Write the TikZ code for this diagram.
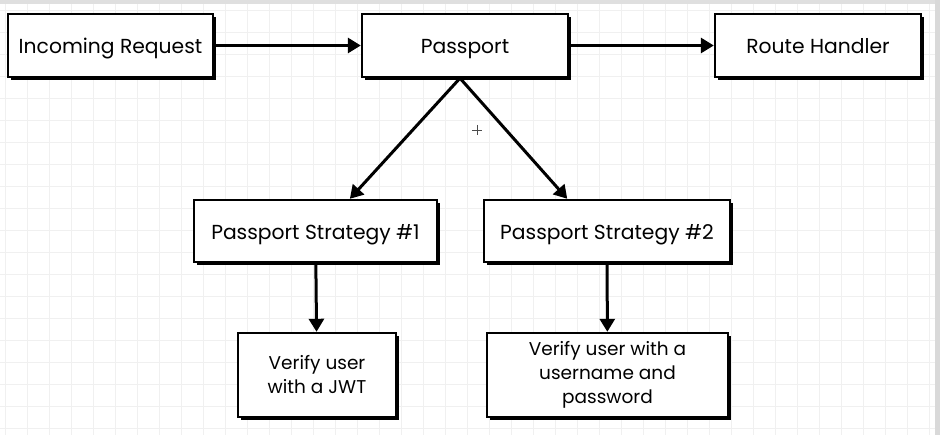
\documentclass[tikz,border=0pt]{standalone}
\usepackage{fontspec}
\setmainfont{Poppins}
\usetikzlibrary{arrows.meta, positioning, calc, shadows}

\begin{document}
\begin{tikzpicture}[x=1pt, y=-1pt,
  box/.style={draw=black, line width=2.4pt, fill=white, inner sep=0pt,
    font=\fontsize{20.3}{24}\selectfont, text height=17.5pt, text depth=1pt,
    drop shadow={shadow xshift=3pt, shadow yshift=-3pt, opacity=1, fill=black}},
  smallbox/.style={box, align=center, font=\fontsize{18.5}{24}\selectfont, text height={}, text depth={}},
  flow/.style={-{Triangle[length=13pt, width=15pt]}, line width=3pt},
  gridline/.style={draw=gray!12, line width=0.8pt}]
  \useasboundingbox (0,0) rectangle (940,435);

  % papier quadrille
  \fill[white] (0,0) rectangle (940,435);
  \foreach \gx in {5,27,...,935} {
    \draw[gridline] (\gx,4) -- (\gx,435);
  }
  \foreach \gy in {10,32,...,435} {
    \draw[gridline] (0,\gy) -- (935,\gy);
  }
  \fill[gray!25] (0,0) rectangle (940,4);
  \fill[gray!30] (935,0) rectangle (940,435);

  % rangee du haut
  \node[box, minimum width=205, minimum height=63] (inc) at (110.5,45.5) {Incoming Request};
  \node[box, minimum width=206, minimum height=63] (pass) at (465,45.5) {Passport};
  \node[box, minimum width=206, minimum height=63] (route) at (818,45.5) {Route Handler};

  % strategies
  \node[box, minimum width=243, minimum height=62] (strat1) at (315.5,231) {Passport Strategy \#1};
  \node[box, minimum width=246, minimum height=62] (strat2) at (607,231) {Passport Strategy \#2};

  % verification
  \node[smallbox, minimum width=158, minimum height=84] (jwt) at (317,375) {Verify user\\with a JWT};
  \node[smallbox, minimum width=241, minimum height=84] (userpw) at (607.5,375) {Verify user with a\\username and\\password};

  \draw[flow] (inc) -- (pass);
  \draw[flow] (pass) -- (route);
  \draw[flow] ([xshift=-5pt]pass.south) -- ($(strat1.north west)!0.64!(strat1.north east)$);
  \draw[flow] ([xshift=-5pt]pass.south) -- ($(strat2.north west)!0.34!(strat2.north east)$);
  \draw[flow] (strat1) -- (jwt);
  \draw[flow] (strat2) -- (userpw);

  % curseur
  \draw[gray!60!black, line width=0.6pt] (472,130) -- (482,130) (477,125) -- (477,135);
\end{tikzpicture}
\end{document}
